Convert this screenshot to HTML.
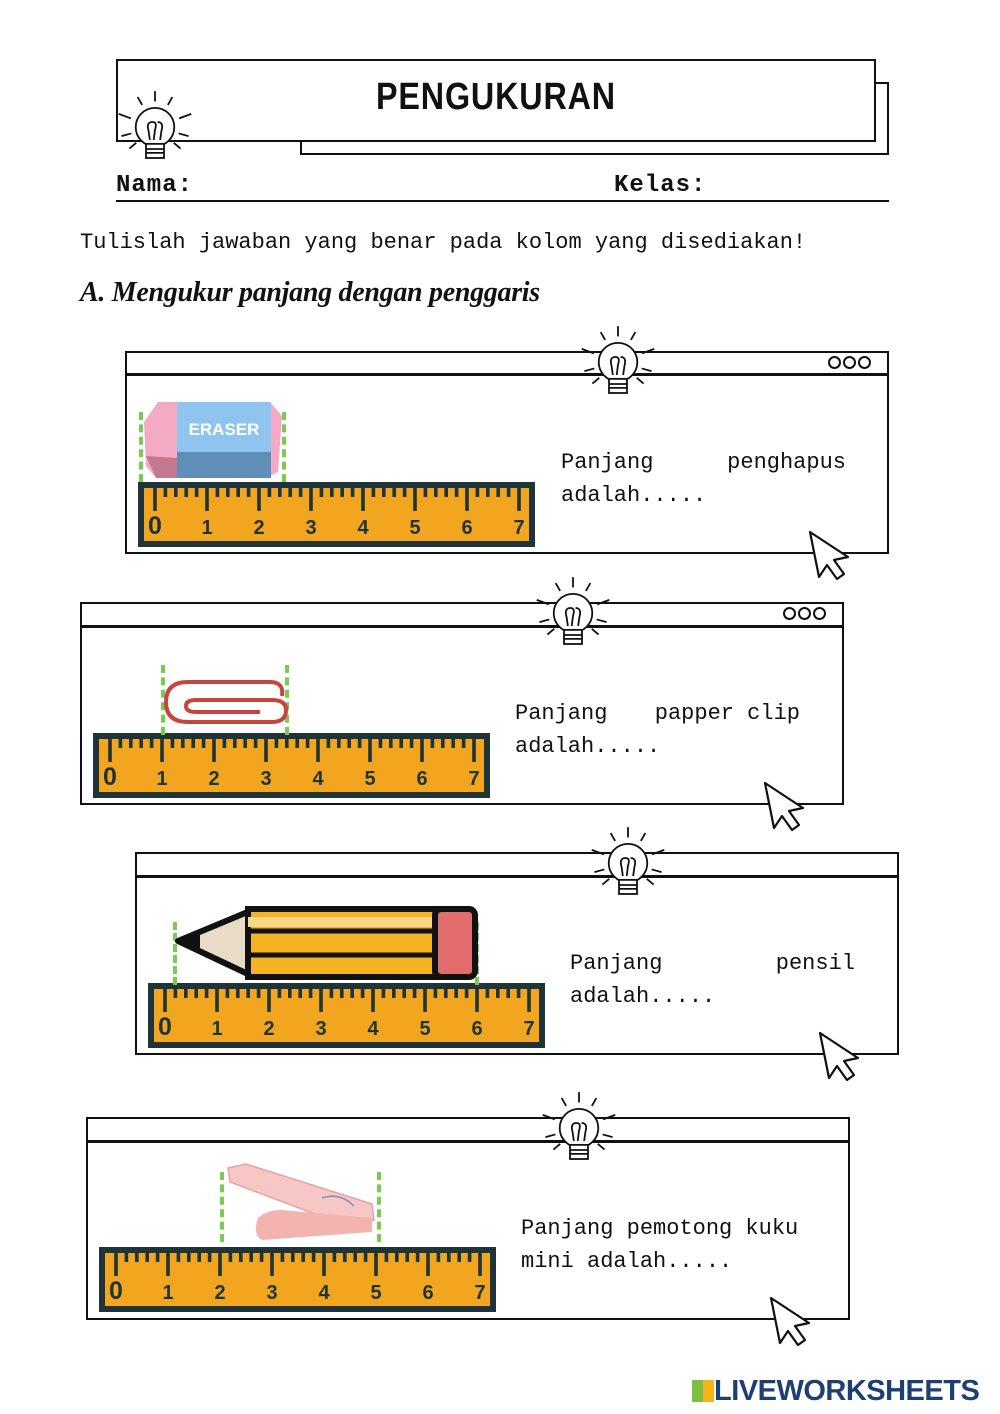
<!DOCTYPE html>
<html><head><meta charset="utf-8">
<style>
html,body{margin:0;padding:0;background:#fff;}
#p{position:relative;width:1000px;height:1414px;overflow:hidden;font-family:"Liberation Mono",monospace;color:#111;}
.abs{position:absolute;}
.box{position:absolute;border:2.5px solid #111;box-sizing:border-box;background:#fff;}
.txt{position:absolute;font-size:22px;line-height:33px;}
.l1{display:flex;justify-content:space-between;}
</style></head><body>
<div id="p">
<!-- header -->
<div class="box" style="left:300px;top:82px;width:589px;height:73px;"></div>
<div class="box" style="left:116px;top:59px;width:760px;height:83px;"></div>
<div class="abs" style="left:116px;top:76px;width:760px;text-align:center;font-family:'Liberation Sans',sans-serif;font-weight:bold;font-size:38px;letter-spacing:1px;transform:scaleX(0.85);">PENGUKURAN</div>
<div class="abs" style="left:116px;top:172px;font-weight:bold;font-size:24px;letter-spacing:1px;">Nama:</div>
<div class="abs" style="left:614px;top:172px;font-weight:bold;font-size:24px;letter-spacing:1px;">Kelas:</div>
<div class="abs" style="left:116px;top:200px;width:773px;height:2px;background:#111;"></div>
<div class="abs" style="left:80px;top:230px;font-size:22px;">Tulislah jawaban yang benar pada kolom yang disediakan!</div>
<div class="abs" style="left:80px;top:277px;font-family:'Liberation Serif',serif;font-weight:bold;font-style:italic;font-size:28px;letter-spacing:-0.3px;white-space:nowrap;">A. Mengukur panjang dengan penggaris</div>
<div id="dyn"></div>
<div class="abs" style="left:692px;top:1375px;font-family:'Liberation Sans',sans-serif;font-weight:bold;font-size:29px;color:#1d3f73;letter-spacing:-0.5px;">
<span style="display:inline-block;width:22px;height:22px;vertical-align:-2px;background:linear-gradient(90deg,#7bc043 50%,#f6b31b 50%);"></span>LIVEWORKSHEETS</div>
</div>
<script>
var W=[
 {x:125,y:351,bar:374,dots:1,rx:138,ry:482,t:561,ty:446,a:"Panjang",b:"penghapus",c:"adalah.....",w:285},
 {x:80,y:602,bar:626,dots:1,rx:93,ry:733,t:515,ty:697,a:"Panjang",b:"papper clip",c:"adalah.....",w:285},
 {x:135,y:852,bar:876,dots:0,rx:148,ry:983,t:570,ty:947,a:"Panjang",b:"pensil",c:"adalah.....",w:285},
 {x:86,y:1117,bar:1141,dots:0,rx:99,ry:1247,t:521,ty:1212,a:"Panjang pemotong kuku",b:"",c:"mini adalah.....",w:290}
];
function bulb(cx,cy){
 var s='<svg class="abs" style="left:'+(cx-45)+'px;top:'+(cy-42)+'px" width="90" height="90" viewBox="-35 -32 70 70" fill="none" stroke="#111" stroke-width="1.4">';
 s+='<circle cx="0" cy="0" r="15" fill="#fff"/>';
 s+='<path d="M-4 10 L-5 3 Q-7 -4 -2 -4 Q2 -4 0 2 L-1 10 M4 10 L5 3 Q7 -4 2 -4"/>';
 s+='<rect x="-7" y="13" width="14" height="11" fill="#fff"/><path d="M-7 17H7M-7 20H7"/>';
 var r=[[-90,20,28],[-60,20,27],[-120,20,27],[-20,20,30],[-160,20,30],[15,19,27],[165,19,27],[40,19,26],[140,19,26]];
 r.forEach(function(q){var a=q[0]*Math.PI/180;s+='<line x1="'+(Math.cos(a)*q[1]).toFixed(1)+'" y1="'+(Math.sin(a)*q[1]).toFixed(1)+'" x2="'+(Math.cos(a)*q[2]).toFixed(1)+'" y2="'+(Math.sin(a)*q[2]).toFixed(1)+'"/>';});
 return s+'</svg>';
}
function ruler(x,y){
 var s='<svg class="abs" style="left:'+x+'px;top:'+y+'px" width="397" height="65"><rect x="3" y="3" width="391" height="59" fill="#f2a51f" stroke="#1e3438" stroke-width="6"/>';
 for(var i=0;i<=35;i++){var tx=17+i*10.4;var h=(i%5==0)?24:10;s+='<rect x="'+(tx-1.8).toFixed(1)+'" y="5" width="3.6" height="'+h+'" fill="#1e3438"/>';}
 for(var j=0;j<=7;j++){s+='<text x="'+(17+j*52)+'" y="52" text-anchor="middle" font-family="Liberation Sans,sans-serif" font-weight="bold" font-size="'+(j==0?25:20)+'" fill="#1e3438">'+j+'</text>';}
 return s+'</svg>';
}
function cursor(x,y){return '<svg class="abs" style="left:'+x+'px;top:'+y+'px" width="45" height="55" viewBox="0 0 45 55"><path d="M3 3 L12 48 L20 36 L30 50 L37 45 L27 31 L41 28 Z" fill="#fff" stroke="#111" stroke-width="2.2" stroke-linejoin="round"/></svg>';}
function dash(x,y1,y2){return '<div class="abs" style="left:'+(x-2)+'px;top:'+y1+'px;width:0;height:'+(y2-y1)+'px;border-left:4px dashed #79cc52;"></div>';}
var h='';
h+=bulb(155,128);
W.forEach(function(w,k){
 h+='<div class="box" style="left:'+w.x+'px;top:'+w.y+'px;width:764px;height:203px;"></div>';
 h+='<div class="abs" style="left:'+w.x+'px;top:'+(w.bar-1)+'px;width:764px;height:2.5px;background:#111"></div>';
 if(w.dots){for(var d=0;d<3;d++)h+='<div class="abs" style="left:'+(w.x+703+d*15)+'px;top:'+(w.y+5)+'px;width:9px;height:9px;border:2px solid #111;border-radius:50%"></div>';}
 h+=bulb(w.x+493,w.y+12);
 h+=cursor(w.x+682,w.y+178);
 h+=ruler(w.rx,w.ry);
 if(w.b){h+='<div class="txt" style="left:'+w.t+'px;top:'+w.ty+'px;width:'+w.w+'px"><div class="l1"><span>'+w.a+'</span><span>'+w.b+'</span></div><div>'+w.c+'</div></div>';}
 else{h+='<div class="txt" style="left:'+w.t+'px;top:'+w.ty+'px;width:'+w.w+'px"><div>'+w.a+'</div><div>'+w.c+'</div></div>';}
});
// eraser
h+=dash(141,412,482)+dash(284,412,482);
h+='<svg class="abs" style="left:140px;top:396px" width="150" height="90"><path d="M18 6 L130 6 L142 20 L138 76 L126 82 L16 82 L6 70 L4 26 Z" fill="#f4a9c4"/><rect x="37" y="6" width="94" height="56" fill="#8fc4ef"/><rect x="37" y="56" width="94" height="26" fill="#5f8fb8"/><path d="M6 60 L37 62 L37 82 L16 82 Z" fill="#c4788f"/><text x="84" y="39" text-anchor="middle" font-family="Liberation Sans,sans-serif" font-weight="bold" font-size="17" fill="#fff">ERASER</text></svg>';
// clip
h+=dash(163,665,735)+dash(287,665,735);
h+='<svg class="abs" style="left:160px;top:674px" width="135" height="60" fill="none" stroke="#c7453d" stroke-width="4"><path d="M122 22 Q124 8 110 8 L28 8 Q6 8 6 28 Q6 48 28 48 L112 48 Q126 48 126 36 Q126 26 112 26 L36 26 Q26 26 26 32 Q26 38 36 38 L100 38"/></svg>';
// pencil
h+=dash(175,922,985)+dash(477,922,985);
h+='<svg class="abs" style="left:170px;top:903px" width="315" height="82"><path d="M8 38 L80 8 L80 72 Z" fill="#e9dcc6" stroke="#111" stroke-width="6" stroke-linejoin="round"/><path d="M8 38 L30 29 L30 47 Z" fill="#111"/><rect x="78" y="6" width="190" height="68" fill="#f5b324" stroke="#111" stroke-width="6"/><path d="M80 28 L268 28 M80 52 L268 52" stroke="#111" stroke-width="5"/><rect x="78" y="14" width="190" height="10" fill="#f9d88a"/><rect x="265" y="6" width="40" height="68" rx="6" fill="#e06c6c" stroke="#111" stroke-width="6"/></svg>';
// nail clipper
h+=dash(222,1172,1242)+dash(379,1172,1242);
h+='<svg class="abs" style="left:222px;top:1162px" width="160" height="80"><path d="M6 6 L24 2 L150 42 L152 58 L130 66 L8 20 Z" fill="#f6c7c4" stroke="#e8a3a0" stroke-width="1.5"/><path d="M36 56 Q44 48 60 48 L150 56 L150 70 L40 78 Q30 72 36 56 Z" fill="#f3b3ae"/><path d="M100 36 Q118 30 132 44" fill="none" stroke="#8090c0" stroke-width="1.5"/></svg>';
document.getElementById('dyn').innerHTML=h;
</script>
</body></html>
